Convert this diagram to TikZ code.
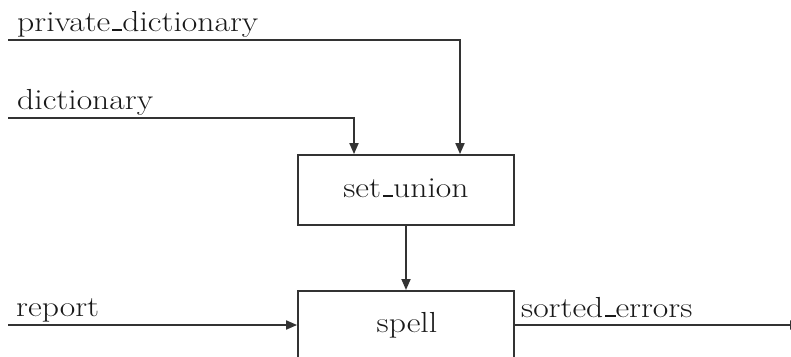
\documentclass[tikz,border=0pt]{standalone}
\usepackage{graphicx}
\usetikzlibrary{arrows.meta,calc}
% short underscore sitting on the baseline
\newcommand\usc{\kern.06em\vbox{\hrule width.3em height .07em}}
% wide-set label text
\newcommand\wtxt[1]{\scalebox{1.16}[1]{#1}}
\begin{document}
\begin{tikzpicture}[x=1pt,y=-1pt,
    flow/.style={line width=1.8pt, draw=black!80, -{Triangle[length=11pt,width=9pt]}},
    procbox/.style={draw=black!80, line width=1.8pt, rectangle, inner sep=0pt},
    txt/.style={inner sep=0pt, text=black!90, font=\fontsize{29}{32}\selectfont},
    lbl/.style={txt, anchor=base west}]
  \useasboundingbox (0,0) rectangle (791,356);

  % process boxes
  \node[procbox, minimum width=216pt, minimum height=70pt] (su) at (406,190) {};
  \node[txt, anchor=base] (sutxt) at (406,197) {\wtxt{set\usc union}};
  \node[procbox, minimum width=216pt, minimum height=130pt, anchor=north] (sp) at (406,290) {};
  \node[txt, anchor=base] (sptxt) at (407,332) {\wtxt{spell}};

  % input and output ends
  \coordinate (pd) at (8,40);
  \coordinate (dc) at (8,118);
  \coordinate (rp) at (8,325);
  \coordinate (se) at (801,325);

  % labels
  \node[lbl] (pdl) at (17,31) {\wtxt{private\usc dictionary}};
  \node[lbl] (dcl) at (17,109) {\wtxt{dictionary}};
  \node[lbl] (rpl) at (16,316) {\wtxt{report}};
  \node[lbl] (sel) at (521,317) {\wtxt{sorted\usc errors}};

  % connectors
  \draw[flow] (pd) -| ($(su.north)+(54,0)$);
  \draw[flow] (dc) -| ($(su.north)+(-52,0)$);
  \draw[flow] (su.south) -- (sp.north);
  \draw[flow] (rp) -- (sp.west |- rp);
  \draw[flow] (sp.east |- se) -- (se);
\end{tikzpicture}
\end{document}
